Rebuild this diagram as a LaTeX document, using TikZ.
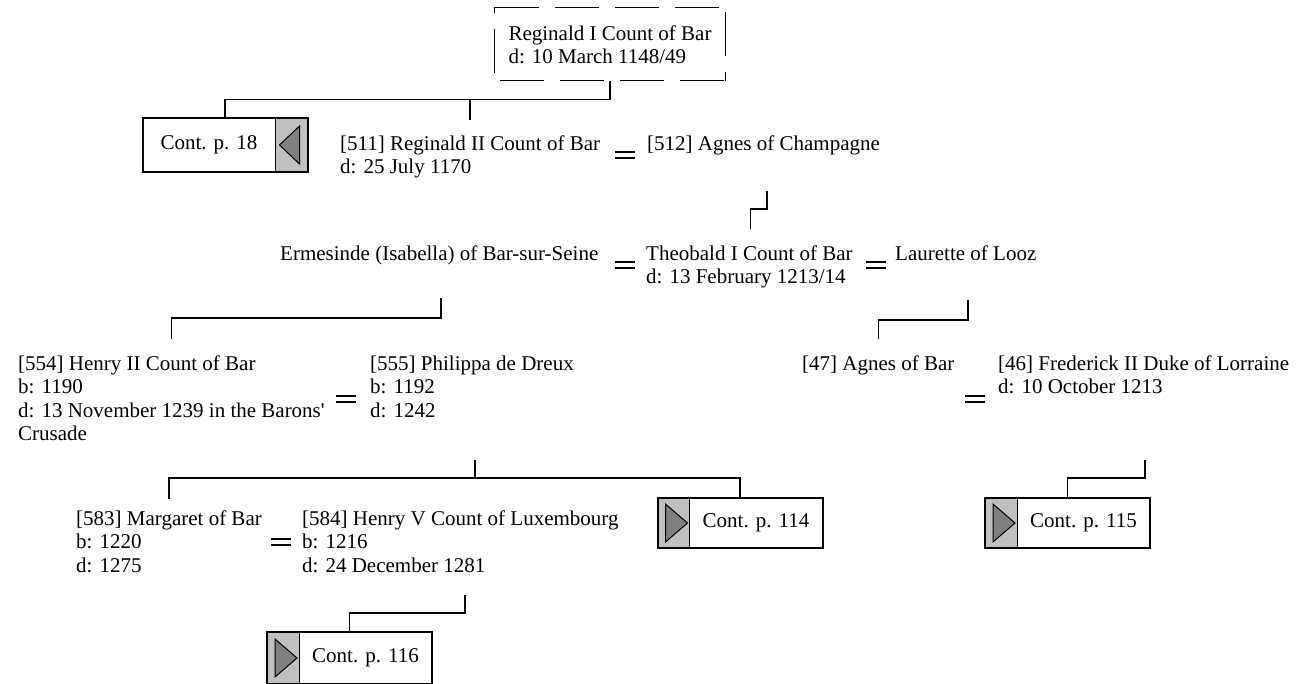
\documentclass[tikz,border=0pt]{standalone}
\usepackage{fontspec}
\setmainfont{Liberation Serif}
\usetikzlibrary{positioning}
\definecolor{tabgrey}{HTML}{C0C0C0}
\definecolor{tridark}{HTML}{808080}
\newcommand{\famtext}{\fontsize{21pt}{23.5pt}\selectfont}

\begin{document}
\begin{tikzpicture}[x=1pt, y=-1pt,
    person/.style={anchor=north west, inner sep=0pt, align=left, font=\famtext},
    tophead/.style={minimum width=230pt, minimum height=73pt, inner sep=8pt, align=left, font=\famtext},
    dashedge/.style={line width=1pt, dash pattern=on 44pt off 16pt},
    spouse/.style={inner sep=0pt, minimum width=19pt, minimum height=6pt},
    eqline/.style={line width=2pt},
    descent/.style={line width=1.5pt},
    contbox/.style={draw, line width=2pt, fill=white, inner sep=0pt, minimum width=165pt, minimum height=50pt, font=\famtext},
    tabright/.style={contbox, path picture={
        \fill[tabgrey] ([xshift=-32pt]path picture bounding box.north east) rectangle (path picture bounding box.south east);
        \draw[line width=1pt] ([xshift=-32pt]path picture bounding box.north east) -- ([xshift=-32pt]path picture bounding box.south east);
        \draw[line width=1pt, fill=tridark] ([shift={(-28,0)}]path picture bounding box.east) -- ([shift={(-8,-19)}]path picture bounding box.east) -- ([shift={(-8,19)}]path picture bounding box.east) -- cycle;}},
    tableft/.style={contbox, path picture={
        \fill[tabgrey] (path picture bounding box.north west) rectangle ([xshift=32pt]path picture bounding box.south west);
        \draw[line width=1pt] ([xshift=32pt]path picture bounding box.north west) -- ([xshift=32pt]path picture bounding box.south west);
        \draw[line width=1pt, fill=tridark] ([shift={(30,0)}]path picture bounding box.west) -- ([shift={(8,-19)}]path picture bounding box.west) -- ([shift={(8,19)}]path picture bounding box.west) -- cycle;}},
]
\useasboundingbox (0,0) rectangle (1297,683);

% generation 1
\node[tophead] (reg1) at (610,44) {\strut Reginald I Count of Bar\\d: 10 March 1148/49};
\draw[dashedge] (reg1.north west) -- (reg1.north east);
\draw[dashedge, dash phase=55pt] (reg1.south west) -- (reg1.south east);
\draw[dashedge, dash phase=52pt] (reg1.south west) -- (reg1.north west);
\draw[dashedge, dash phase=55pt] (reg1.north east) -- (reg1.south east);

% generation 2
\node[tabright, minimum height=54pt] (c18) at (225,145) {\makebox[133pt]{Cont. p. 18}\hspace*{32pt}};
\node[person] (reg2) at (340,133.5) {\strut[511] Reginald II Count of Bar\\d: 25 July 1170};
\node[spouse] (m1) at (625,155) {};
\node[person] (agnesC) at (647,133.5) {\strut[512] Agnes of Champagne};

% generation 3
\node[person] (ermes) at (280,243.5) {\strut Ermesinde (Isabella) of Bar-sur-Seine};
\node[spouse] (m2) at (625,265) {};
\node[person] (theob) at (646,243.5) {\strut Theobald I Count of Bar\\d: 13 February 1213/14};
\node[spouse] (m3) at (876,265) {};
\node[person] (laur) at (895,243.5) {\strut Laurette of Looz};

% generation 4
\node[person] (henry2) at (18,353.5) {\strut[554] Henry II Count of Bar\\b: 1190\\d: 13 November 1239 in the Barons\textquotesingle\\Crusade};
\node[spouse] (m4) at (346,399) {};
\node[person] (phil) at (370,353.5) {\strut[555] Philippa de Dreux\\b: 1192\\d: 1242};
\node[person] (agnesB) at (802,353.5) {\strut[47] Agnes of Bar};
\node[spouse] (m5) at (975,399) {};
\node[person] (fred) at (998,353.5) {\strut[46] Frederick II Duke of Lorraine\\d: 10 October 1213};

% generation 5
\node[person] (marg) at (76,508.5) {\strut[583] Margaret of Bar\\b: 1220\\d: 1275};
\node[spouse] (m6) at (281,542) {};
\node[person] (henry5) at (302,508.5) {\strut[584] Henry V Count of Luxembourg\\b: 1216\\d: 24 December 1281};
\node[tableft] (c114) at (740,523) {\hspace*{32pt}\makebox[133pt]{Cont. p. 114}};
\node[tableft] (c115) at (1067.5,523) {\hspace*{32pt}\makebox[133pt]{Cont. p. 115}};

% generation 6
\node[tableft, minimum height=52pt] (c116) at (349.5,658) {\hspace*{32pt}\makebox[133pt]{Cont. p. 116}};

% marriage marks
\foreach \m in {m1,m2,m3,m4,m5,m6}
    \draw[eqline] (\m.north west) -- (\m.north east) (\m.south west) -- (\m.south east);

% descent lines
\coordinate (d1) at (767,191);
\coordinate (d2) at (441,298);
\coordinate (d3) at (968,300);
\coordinate (d4) at (475,460);
\coordinate (d5) at (1145,460);
\coordinate (d6) at (465,595);

\draw[descent] (reg1.south) -- ++(0,19) -| (c18.north);
\draw[descent] (reg1.south) ++(0,19) -| ([yshift=14pt]reg2.north);
\draw[descent] (d1) -- ++(0,18) -| ([xshift=1pt,yshift=15pt]theob.north);
\draw[descent] (d2) -- ++(0,20) -| ([yshift=15pt]henry2.north);
\draw[descent] (d3) -- ++(0,20) -| ([yshift=15pt]agnesB.north);
\draw[descent] (d4) -- ++(0,18) -| ([yshift=10pt]marg.north);
\draw[descent] (d4) ++(0,18) -| (c114.north);
\draw[descent] (d5) -- ++(0,18) -| (c115.north);
\draw[descent] (d6) -- ++(0,18) -| (c116.north);

\end{tikzpicture}
\end{document}
